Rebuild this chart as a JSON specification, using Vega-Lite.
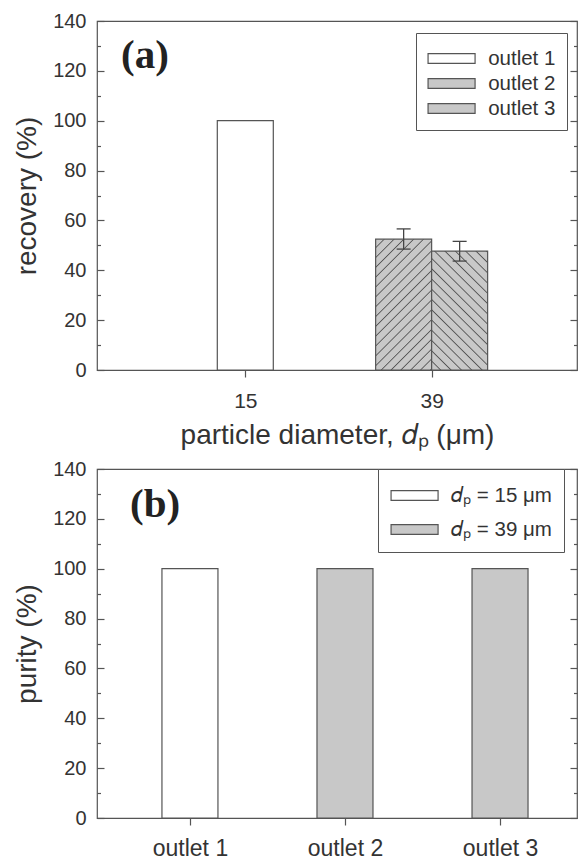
{
  "$schema": "https://vega.github.io/schema/vega-lite/v6.json",
  "background": "white",
  "padding": {"left": 13, "top": 10, "right": 0, "bottom": 0},
  "spacing": 8,
  "resolve": {"scale": {"fill": "independent"}, "legend": {"fill": "independent"}},
  "config": {
    "font": "Liberation Sans",
    "view": {"stroke": "#555555", "strokeWidth": 1.2},
    "axis": {"labelFontSize": 20, "labelColor": "#333333", "titleFontSize": 28, "titleFontWeight": "normal", "titleColor": "#333333", "tickColor": "#555555", "tickWidth": 1.2, "domain": false, "grid": false},
    "legend": {"title": null, "symbolType": "M-1.75,-0.3675H1.75V0.3675H-1.75Z", "symbolSize": 721.5, "symbolOffset": 10.07, "symbolStrokeWidth": 1.2, "symbolStrokeColor": "#555555", "labelFontSize": 20.5, "labelColor": "#333333", "labelOffset": 22.07, "strokeColor": "#555555", "fillColor": "#ffffff", "padding": 10}
  },
  "vconcat": [
    {
      "width": 480,
      "height": 349,
      "title": {"text": "(a)", "font": "Liberation Serif", "fontSize": 41, "fontWeight": "bold", "color": "#222222", "anchor": "start", "frame": "group", "orient": "top", "baseline": "top", "offset": 0, "dx": 24, "dy": 66},
      "data": {"values": [
        {"diameter": "15", "outlet": "outlet 1", "recovery": 100, "lo": null, "hi": null},
        {"diameter": "39", "outlet": "outlet 2", "recovery": 52.5, "lo": 48.5, "hi": 56.6},
        {"diameter": "39", "outlet": "outlet 3", "recovery": 47.7, "lo": 43.7, "hi": 51.6}
      ]},
      "encoding": {
        "x": {"field": "diameter", "type": "ordinal", "scale": {"type": "point", "domain": ["15", "39"], "padding": 0.788, "align": 0.505}, "axis": {"title": "particle diameter, 𝑑ₚ (μm)", "labelAngle": 0, "labelFontSize": 21, "tickSize": 7, "labelPadding": 13, "titlePadding": 10}}
      },
      "resolve": {"axis": {"y": "independent"}},
      "layer": [
        {
          "transform": [{"filter": "datum.outlet === 'outlet 1'"}],
          "mark": {"type": "bar", "width": 56, "stroke": "#555555", "strokeWidth": 1.2},
          "encoding": {
            "y": {"field": "recovery", "type": "quantitative", "scale": {"domain": [0, 140], "nice": false}, "axis": {"orient": "left", "title": "recovery (%)", "values": [0, 10, 20, 30, 40, 50, 60, 70, 80, 90, 100, 110, 120, 130, 140], "labelExpr": "datum.value % 20 === 0 ? datum.label : ''", "tickSize": {"condition": {"test": "datum.value % 20 === 0", "value": -7}, "value": -3.5}, "labelPadding": 18, "titlePadding": 11}},
            "fill": {"field": "outlet", "type": "nominal", "scale": {"domain": ["outlet 1", "outlet 2", "outlet 3"], "range": ["#ffffff", "#c8c8c8", "#c8c8c8"]},
              "legend": {"orient": "none", "legendX": 319, "legendY": 12, "rowPadding": -2, "padding": 11,
                "encode": {"symbols": {"update": {"fill": [
                  {"test": "datum.value === 'outlet 2'", "value": {"gradient": "linear", "x1": 0, "y1": 0, "x2": 1.106, "y2": 0.136, "stops": [
                    {"offset": 0, "color": "#c8c8c8"}, {"offset": 0.125, "color": "#c8c8c8"}, {"offset": 0.1458, "color": "#555555"},
                    {"offset": 0.1667, "color": "#c8c8c8"}, {"offset": 0.2917, "color": "#c8c8c8"}, {"offset": 0.3125, "color": "#555555"},
                    {"offset": 0.3333, "color": "#c8c8c8"}, {"offset": 0.4583, "color": "#c8c8c8"}, {"offset": 0.4792, "color": "#555555"},
                    {"offset": 0.5, "color": "#c8c8c8"}, {"offset": 0.625, "color": "#c8c8c8"}, {"offset": 0.6458, "color": "#555555"},
                    {"offset": 0.6667, "color": "#c8c8c8"}, {"offset": 0.7917, "color": "#c8c8c8"}, {"offset": 0.8125, "color": "#555555"},
                    {"offset": 0.8333, "color": "#c8c8c8"}, {"offset": 0.9583, "color": "#c8c8c8"}, {"offset": 0.9792, "color": "#555555"},
                    {"offset": 1, "color": "#c8c8c8"}]}},
                  {"test": "datum.value === 'outlet 3'", "value": {"gradient": "linear", "x1": 0, "y1": 1, "x2": 1.106, "y2": 0.864, "stops": [
                    {"offset": 0, "color": "#c8c8c8"}, {"offset": 0.125, "color": "#c8c8c8"}, {"offset": 0.1458, "color": "#555555"},
                    {"offset": 0.1667, "color": "#c8c8c8"}, {"offset": 0.2917, "color": "#c8c8c8"}, {"offset": 0.3125, "color": "#555555"},
                    {"offset": 0.3333, "color": "#c8c8c8"}, {"offset": 0.4583, "color": "#c8c8c8"}, {"offset": 0.4792, "color": "#555555"},
                    {"offset": 0.5, "color": "#c8c8c8"}, {"offset": 0.625, "color": "#c8c8c8"}, {"offset": 0.6458, "color": "#555555"},
                    {"offset": 0.6667, "color": "#c8c8c8"}, {"offset": 0.7917, "color": "#c8c8c8"}, {"offset": 0.8125, "color": "#555555"},
                    {"offset": 0.8333, "color": "#c8c8c8"}, {"offset": 0.9583, "color": "#c8c8c8"}, {"offset": 0.9792, "color": "#555555"},
                    {"offset": 1, "color": "#c8c8c8"}]}},
                  {"value": "#ffffff"}], "stroke": {"value": "#555555"}}}}}}
          }
        },
        {
          "transform": [{"filter": "datum.outlet === 'outlet 2'"}],
          "mark": {"type": "bar", "width": 56, "xOffset": -28, "stroke": "#555555", "strokeWidth": 1.2,
            "fill": {"gradient": "linear", "x1": 0, "y1": 0, "x2": 0.5163, "y2": 1.2069, "stops": [
              {"offset": 0, "color": "#c8c8c8"}, {"offset": 0.0395, "color": "#c8c8c8"}, {"offset": 0.0461, "color": "#555555"},
              {"offset": 0.0526, "color": "#c8c8c8"}, {"offset": 0.0921, "color": "#c8c8c8"}, {"offset": 0.0987, "color": "#555555"},
              {"offset": 0.1053, "color": "#c8c8c8"}, {"offset": 0.1447, "color": "#c8c8c8"}, {"offset": 0.1513, "color": "#555555"},
              {"offset": 0.1579, "color": "#c8c8c8"}, {"offset": 0.1974, "color": "#c8c8c8"}, {"offset": 0.2039, "color": "#555555"},
              {"offset": 0.2105, "color": "#c8c8c8"}, {"offset": 0.25, "color": "#c8c8c8"}, {"offset": 0.2566, "color": "#555555"},
              {"offset": 0.2632, "color": "#c8c8c8"}, {"offset": 0.3026, "color": "#c8c8c8"}, {"offset": 0.3092, "color": "#555555"},
              {"offset": 0.3158, "color": "#c8c8c8"}, {"offset": 0.3553, "color": "#c8c8c8"}, {"offset": 0.3618, "color": "#555555"},
              {"offset": 0.3684, "color": "#c8c8c8"}, {"offset": 0.4079, "color": "#c8c8c8"}, {"offset": 0.4145, "color": "#555555"},
              {"offset": 0.4211, "color": "#c8c8c8"}, {"offset": 0.4605, "color": "#c8c8c8"}, {"offset": 0.4671, "color": "#555555"},
              {"offset": 0.4737, "color": "#c8c8c8"}, {"offset": 0.5132, "color": "#c8c8c8"}, {"offset": 0.5197, "color": "#555555"},
              {"offset": 0.5263, "color": "#c8c8c8"}, {"offset": 0.5658, "color": "#c8c8c8"}, {"offset": 0.5724, "color": "#555555"},
              {"offset": 0.5789, "color": "#c8c8c8"}, {"offset": 0.6184, "color": "#c8c8c8"}, {"offset": 0.625, "color": "#555555"},
              {"offset": 0.6316, "color": "#c8c8c8"}, {"offset": 0.6711, "color": "#c8c8c8"}, {"offset": 0.6776, "color": "#555555"},
              {"offset": 0.6842, "color": "#c8c8c8"}, {"offset": 0.7237, "color": "#c8c8c8"}, {"offset": 0.7303, "color": "#555555"},
              {"offset": 0.7368, "color": "#c8c8c8"}, {"offset": 0.7763, "color": "#c8c8c8"}, {"offset": 0.7829, "color": "#555555"},
              {"offset": 0.7895, "color": "#c8c8c8"}, {"offset": 0.8289, "color": "#c8c8c8"}, {"offset": 0.8355, "color": "#555555"},
              {"offset": 0.8421, "color": "#c8c8c8"}, {"offset": 0.8816, "color": "#c8c8c8"}, {"offset": 0.8882, "color": "#555555"},
              {"offset": 0.8947, "color": "#c8c8c8"}, {"offset": 0.9342, "color": "#c8c8c8"}, {"offset": 0.9408, "color": "#555555"},
              {"offset": 0.9474, "color": "#c8c8c8"}, {"offset": 0.9868, "color": "#c8c8c8"}, {"offset": 0.9934, "color": "#555555"},
              {"offset": 1, "color": "#c8c8c8"}]}},
          "encoding": {
            "y": {"field": "recovery", "type": "quantitative", "axis": {"orient": "right", "title": null, "labels": false, "values": [0, 10, 20, 30, 40, 50, 60, 70, 80, 90, 100, 110, 120, 130, 140], "tickSize": {"condition": {"test": "datum.value % 20 === 0", "value": -7}, "value": -3.5}}}
          }
        },
        {
          "transform": [{"filter": "datum.outlet === 'outlet 3'"}],
          "mark": {"type": "bar", "width": 56, "xOffset": 28, "stroke": "#555555", "strokeWidth": 1.2,
            "fill": {"gradient": "linear", "x1": 0, "y1": 1, "x2": 0.5622, "y2": -0.2044, "stops": [
              {"offset": 0, "color": "#c8c8c8"}, {"offset": 0.0441, "color": "#c8c8c8"}, {"offset": 0.0515, "color": "#555555"},
              {"offset": 0.0588, "color": "#c8c8c8"}, {"offset": 0.1029, "color": "#c8c8c8"}, {"offset": 0.1103, "color": "#555555"},
              {"offset": 0.1176, "color": "#c8c8c8"}, {"offset": 0.1618, "color": "#c8c8c8"}, {"offset": 0.1691, "color": "#555555"},
              {"offset": 0.1765, "color": "#c8c8c8"}, {"offset": 0.2206, "color": "#c8c8c8"}, {"offset": 0.2279, "color": "#555555"},
              {"offset": 0.2353, "color": "#c8c8c8"}, {"offset": 0.2794, "color": "#c8c8c8"}, {"offset": 0.2868, "color": "#555555"},
              {"offset": 0.2941, "color": "#c8c8c8"}, {"offset": 0.3382, "color": "#c8c8c8"}, {"offset": 0.3456, "color": "#555555"},
              {"offset": 0.3529, "color": "#c8c8c8"}, {"offset": 0.3971, "color": "#c8c8c8"}, {"offset": 0.4044, "color": "#555555"},
              {"offset": 0.4118, "color": "#c8c8c8"}, {"offset": 0.4559, "color": "#c8c8c8"}, {"offset": 0.4632, "color": "#555555"},
              {"offset": 0.4706, "color": "#c8c8c8"}, {"offset": 0.5147, "color": "#c8c8c8"}, {"offset": 0.5221, "color": "#555555"},
              {"offset": 0.5294, "color": "#c8c8c8"}, {"offset": 0.5735, "color": "#c8c8c8"}, {"offset": 0.5809, "color": "#555555"},
              {"offset": 0.5882, "color": "#c8c8c8"}, {"offset": 0.6324, "color": "#c8c8c8"}, {"offset": 0.6397, "color": "#555555"},
              {"offset": 0.6471, "color": "#c8c8c8"}, {"offset": 0.6912, "color": "#c8c8c8"}, {"offset": 0.6985, "color": "#555555"},
              {"offset": 0.7059, "color": "#c8c8c8"}, {"offset": 0.75, "color": "#c8c8c8"}, {"offset": 0.7574, "color": "#555555"},
              {"offset": 0.7647, "color": "#c8c8c8"}, {"offset": 0.8088, "color": "#c8c8c8"}, {"offset": 0.8162, "color": "#555555"},
              {"offset": 0.8235, "color": "#c8c8c8"}, {"offset": 0.8676, "color": "#c8c8c8"}, {"offset": 0.875, "color": "#555555"},
              {"offset": 0.8824, "color": "#c8c8c8"}, {"offset": 0.9265, "color": "#c8c8c8"}, {"offset": 0.9338, "color": "#555555"},
              {"offset": 0.9412, "color": "#c8c8c8"}, {"offset": 0.9853, "color": "#c8c8c8"}, {"offset": 0.9926, "color": "#555555"},
              {"offset": 1, "color": "#c8c8c8"}]}},
          "encoding": {"y": {"field": "recovery", "type": "quantitative", "axis": null}}
        },
        {
          "transform": [{"filter": "datum.outlet === 'outlet 2'"}],
          "mark": {"type": "rule", "xOffset": -28, "stroke": "#444444", "strokeWidth": 1.3},
          "encoding": {"y": {"field": "lo", "type": "quantitative", "axis": null}, "y2": {"field": "hi"}}
        },
        {
          "transform": [{"filter": "datum.outlet === 'outlet 2'"}, {"fold": ["lo", "hi"], "as": ["end", "val"]}],
          "mark": {"type": "tick", "xOffset": -28, "color": "#444444", "opacity": 1, "size": 14, "thickness": 1.3},
          "encoding": {"y": {"field": "val", "type": "quantitative", "axis": null}}
        },
        {
          "transform": [{"filter": "datum.outlet === 'outlet 3'"}],
          "mark": {"type": "rule", "xOffset": 28, "stroke": "#444444", "strokeWidth": 1.3},
          "encoding": {"y": {"field": "lo", "type": "quantitative", "axis": null}, "y2": {"field": "hi"}}
        },
        {
          "transform": [{"filter": "datum.outlet === 'outlet 3'"}, {"fold": ["lo", "hi"], "as": ["end", "val"]}],
          "mark": {"type": "tick", "xOffset": 28, "color": "#444444", "opacity": 1, "size": 14, "thickness": 1.3},
          "encoding": {"y": {"field": "val", "type": "quantitative", "axis": null}}
        }
      ]
    },
    {
      "width": 480,
      "height": 349,
      "title": {"text": "(b)", "font": "Liberation Serif", "fontSize": 41, "fontWeight": "bold", "color": "#222222", "anchor": "start", "frame": "group", "orient": "top", "baseline": "top", "offset": 0, "dx": 33, "dy": 67},
      "data": {"values": [
        {"outlet": "outlet 1", "purity": 100, "dp": "𝑑ₚ = 15 μm"},
        {"outlet": "outlet 2", "purity": 100, "dp": "𝑑ₚ = 39 μm"},
        {"outlet": "outlet 3", "purity": 100, "dp": "𝑑ₚ = 39 μm"}
      ]},
      "encoding": {
        "x": {"field": "outlet", "type": "nominal", "scale": {"type": "point", "domain": ["outlet 1", "outlet 2", "outlet 3"], "padding": 0.548, "align": 0.547}, "axis": {"title": null, "labelAngle": 0, "labelFontSize": 23, "tickSize": 7, "labelPadding": 12}}
      },
      "resolve": {"axis": {"y": "independent"}},
      "layer": [
        {
          "transform": [{"filter": "datum.outlet === 'outlet 1'"}],
          "mark": {"type": "bar", "width": 56, "stroke": "#555555", "strokeWidth": 1.2},
          "encoding": {
            "y": {"field": "purity", "type": "quantitative", "scale": {"domain": [0, 140], "nice": false}, "axis": {"orient": "left", "title": "purity (%)", "values": [0, 10, 20, 30, 40, 50, 60, 70, 80, 90, 100, 110, 120, 130, 140], "labelExpr": "datum.value % 20 === 0 ? datum.label : ''", "tickSize": {"condition": {"test": "datum.value % 20 === 0", "value": -7}, "value": -3.5}, "labelPadding": 18, "titlePadding": 11}},
            "fill": {"field": "dp", "type": "nominal", "scale": {"domain": ["𝑑ₚ = 15 μm", "𝑑ₚ = 39 μm"], "range": ["#ffffff", "#c8c8c8"]}, "legend": {"orient": "none", "legendX": 281, "legendY": 0, "rowPadding": 9, "padding": 12}}
          }
        },
        {
          "transform": [{"filter": "datum.outlet !== 'outlet 1'"}],
          "mark": {"type": "bar", "width": 56, "stroke": "#555555", "strokeWidth": 1.2},
          "encoding": {
            "y": {"field": "purity", "type": "quantitative", "axis": {"orient": "right", "title": null, "labels": false, "values": [0, 10, 20, 30, 40, 50, 60, 70, 80, 90, 100, 110, 120, 130, 140], "tickSize": {"condition": {"test": "datum.value % 20 === 0", "value": -7}, "value": -3.5}}},
            "fill": {"field": "dp", "type": "nominal", "legend": null}
          }
        }
      ]
    }
  ]
}
